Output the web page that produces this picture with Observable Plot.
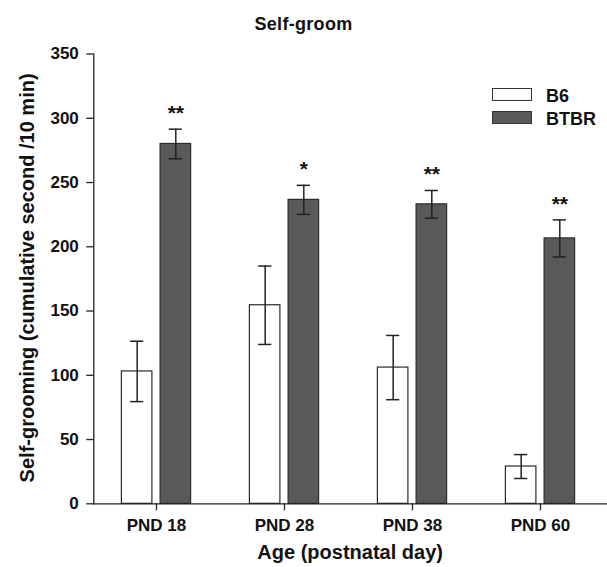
<!DOCTYPE html>
<html>
<head>
<meta charset="utf-8">
<script src="https://cdn.jsdelivr.net/npm/d3@7"></script>
<script src="https://cdn.jsdelivr.net/npm/@observablehq/plot@0.6"></script>
<style>
  html, body { margin: 0; padding: 0; background: #fff; }
  #wrap { position: relative; width: 607px; height: 567px; font-family: "Liberation Sans", Arial, sans-serif; }
  #title { position: absolute; left: 0; width: 607px; top: 14px; text-align: center; font-weight: bold; font-size: 18px; letter-spacing: 0.3px; color: #111; }
  .leg { position: absolute; left: 492px; width: 38px; height: 11px; border: 1.2px solid #333; }
  .legt { position: absolute; left: 546px; font-weight: bold; font-size: 18px; color: #111; line-height: 1; }
  #wrap svg { position: absolute; left: 0; top: 0; }
</style>
</head>
<body>
<div id="wrap">
  <div id="title">Self-groom</div>
</div>
<script>
// ---- data ----
const groups = ["PND 18", "PND 28", "PND 38", "PND 60"];
const strains = ["B6", "BTBR"];
const b6Mean = [103, 154.5, 106, 29];
const b6Sem = [23.5, 30.5, 25, 9.3];
const btbrMean = [280, 236.5, 233, 206.5];
const btbrSem = [11.5, 11.3, 10.8, 14.4];
const sigMarks = ["**", "*", "**", "**"];
const yTicks = [0, 50, 100, 150, 200, 250, 300, 350];
const yLabel = "Self-grooming (cumulative second /10 min)";
const xLabel = "Age (postnatal day)";

const b6 = groups.map((g, i) => ({group: g, mean: b6Mean[i], lo: b6Mean[i] - b6Sem[i], hi: b6Mean[i] + b6Sem[i]}));
const btbr = groups.map((g, i) => ({group: g, mean: btbrMean[i], lo: btbrMean[i] - btbrSem[i], hi: btbrMean[i] + btbrSem[i], sig: sigMarks[i]}));

const dark = "#58595b";
const edge = "#2b2b2b";
const font = "'Liberation Sans', Arial, sans-serif";

const chart = Plot.plot({
  width: 607,
  height: 567,
  marginLeft: 93.3,
  marginRight: 1,
  marginTop: 53.5,
  marginBottom: 63.7,
  style: {fontFamily: font, background: "transparent", color: "#111"},
  x: {domain: groups, range: [90.6, 605.4], padding: 0, label: null},
  y: {domain: [0, 350], label: null},
  marks: [
    // bars
    Plot.barY(b6, {x: "group", y: "mean", fill: "white", stroke: edge, strokeWidth: 1.2, insetLeft: 29.4, insetRight: 68.1}),
    Plot.barY(btbr, {x: "group", y: "mean", fill: dark, stroke: edge, strokeWidth: 1.2, insetLeft: 68.1, insetRight: 29.4}),
    // error bars
    Plot.ruleX(b6, {x: "group", y1: "lo", y2: "hi", dx: -19.3, stroke: "#222", strokeWidth: 1.5}),
    Plot.tickY(b6, {x: "group", y: "hi", insetLeft: 38.1, insetRight: 76.7, stroke: "#222", strokeWidth: 1.5}),
    Plot.tickY(b6, {x: "group", y: "lo", insetLeft: 38.1, insetRight: 76.7, stroke: "#222", strokeWidth: 1.5}),
    Plot.ruleX(btbr, {x: "group", y1: "lo", y2: "hi", dx: 19.3, stroke: "#222", strokeWidth: 1.5}),
    Plot.tickY(btbr, {x: "group", y: "hi", insetLeft: 76.7, insetRight: 38.1, stroke: "#222", strokeWidth: 1.5}),
    Plot.tickY(btbr, {x: "group", y: "lo", insetLeft: 76.7, insetRight: 38.1, stroke: "#222", strokeWidth: 1.5}),
    // significance stars
    Plot.text(btbr, {x: "group", y: "hi", text: "sig", dx: 19.3, dy: -16, lineAnchor: "middle", fontSize: 21, fontWeight: "bold", fill: "#111"}),
    // axes
    Plot.frame({anchor: "left", stroke: "#222", strokeWidth: 1.3}),
    Plot.frame({anchor: "bottom", stroke: "#222", strokeWidth: 1.3}),
    Plot.axisY({ticks: yTicks, tickSize: 7, tickPadding: 8, fontSize: 17, fontWeight: "bold", stroke: "#222", strokeWidth: 1.3, label: null, style: {letterSpacing: "0.8px"}}),
    Plot.axisX({tickSize: 7, tickPadding: 8, fontSize: 17, fontWeight: "bold", stroke: "#222", strokeWidth: 1.3, label: null, style: {letterSpacing: "0.8px"}}),
    // axis titles
    Plot.text([yLabel], {text: d => d, frameAnchor: "left", textAnchor: "middle", dx: -66, dy: -1, rotate: -90, fontSize: 20, fontWeight: "bold", fill: "#111", lineAnchor: "middle", style: {letterSpacing: "0.9px"}}),
    Plot.text([xLabel], {text: d => d, frameAnchor: "bottom", textAnchor: "middle", dy: 55, fontSize: 20, fontWeight: "bold", fill: "#111", lineAnchor: "bottom", style: {letterSpacing: "1.1px"}})
  ]
});

const wrap = document.getElementById("wrap");
wrap.appendChild(chart);

// legend (inside plot area, top right)
const legendTops = [87.5, 110.5];
const legendFills = ["white", dark];
strains.forEach((s, i) => {
  const box = document.createElement("div");
  box.className = "leg";
  box.style.top = legendTops[i] + "px";
  box.style.background = legendFills[i];
  wrap.appendChild(box);
  const t = document.createElement("div");
  t.className = "legt";
  t.style.top = (legendTops[i] - 1) + "px";
  t.textContent = s;
  wrap.appendChild(t);
});
</script>
</body>
</html>
